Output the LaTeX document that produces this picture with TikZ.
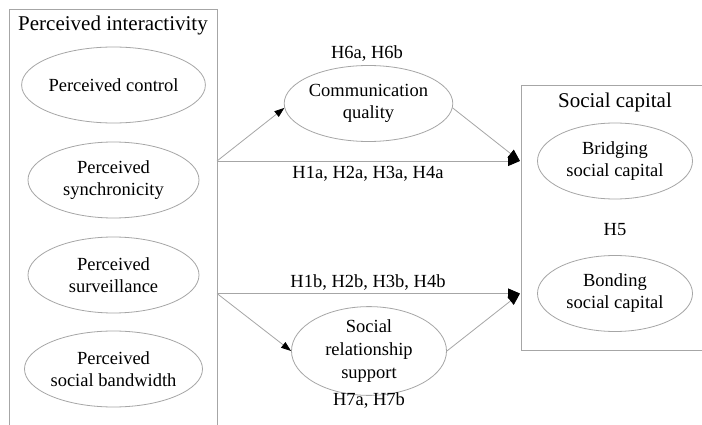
\documentclass[tikz,border=0pt]{standalone}
\usepackage{fontspec}
\setmainfont{Liberation Serif}
\usetikzlibrary{arrows.meta,shapes.geometric}
\begin{document}
\begin{tikzpicture}[x=1pt,y=-1pt,
  line width=0.8pt,
  grp/.style={draw=black!35, line width=0.9pt},
  var/.style={ellipse, draw=black!35, line width=0.8pt, minimum width=155pt, minimum height=76pt,
    inner sep=0pt, align=center, font=\fontsize{18.5}{22}\selectfont},
  varL/.style={var, minimum width=171pt},
  ttl/.style={font=\fontsize{21}{24}\selectfont, inner sep=0pt},
  hyp/.style={font=\fontsize{18.5}{22}\selectfont, inner sep=0pt},
  conn/.style={draw=black!35, line width=0.8pt},
  sm/.style={-{Triangle[length=10pt,width=7pt,color=black]}},
  bg/.style={-{Triangle[length=12pt,width=10pt,color=black]}}
]
\useasboundingbox (0,0) rectangle (702,425);
\clip (0,0) rectangle (702,425);
\fill[white] (0,0) rectangle (702,425);
% left group box (open at bottom)
\draw[grp] (9,432) -- (9,9) -- (217,9) -- (217,432);
\node[ttl] (piT) at (113,25) {Perceived interactivity};
\node[varL] (pc) at (113.5,85) {Perceived control};
\node[varL] (ps) at (113.5,180) {Perceived\\synchronicity};
\node[varL] (pv) at (113.5,275) {Perceived\\surveillance};
\node[varL] (pb) at (113.5,369) {Perceived\\social bandwidth};
% right group box (open at right)
\draw[grp] (710,85) -- (521,85) -- (521,350.5) -- (710,350.5);
\node[ttl] (scT) at (615,102) {Social capital};
\node[var] (br) at (615,161) {Bridging\\social capital};
\node[hyp] (h5) at (615,230) {H5};
\node[var] (bo) at (615,293.5) {Bonding\\social capital};
% mediators
\node[var] (cq) at (368.5,103.5) {Communication\\quality};
\node[var, font=\fontsize{18.5}{23}\selectfont] (sr) at (369,351) {Social\\relationship\\support};
\node[hyp] (h6) at (367,54) {H6a, H6b};
\node[hyp] (h7) at (369,401) {H7a, H7b};
\node[hyp] (h1a) at (368,174) {H1a, H2a, H3a, H4a};
\node[hyp] (h1b) at (368,283) {H1b, H2b, H3b, H4b};
% junction coordinates on box edges
\coordinate (oa) at (217,161);
\coordinate (ob) at (217,293.5);
\coordinate (ta) at (520,161);
\coordinate (tb) at (520,293.5);
% connectors
\draw[conn,sm] (oa) -- (cq.183);
\draw[conn,bg] (cq.-3) -- (ta);
\draw[conn,bg] (oa) -- (ta);
\draw[conn,sm] (ob) -- (sr.180);
\draw[conn,bg] (sr.0) -- (tb);
\draw[conn,bg] (ob) -- (tb);
\end{tikzpicture}
\end{document}
